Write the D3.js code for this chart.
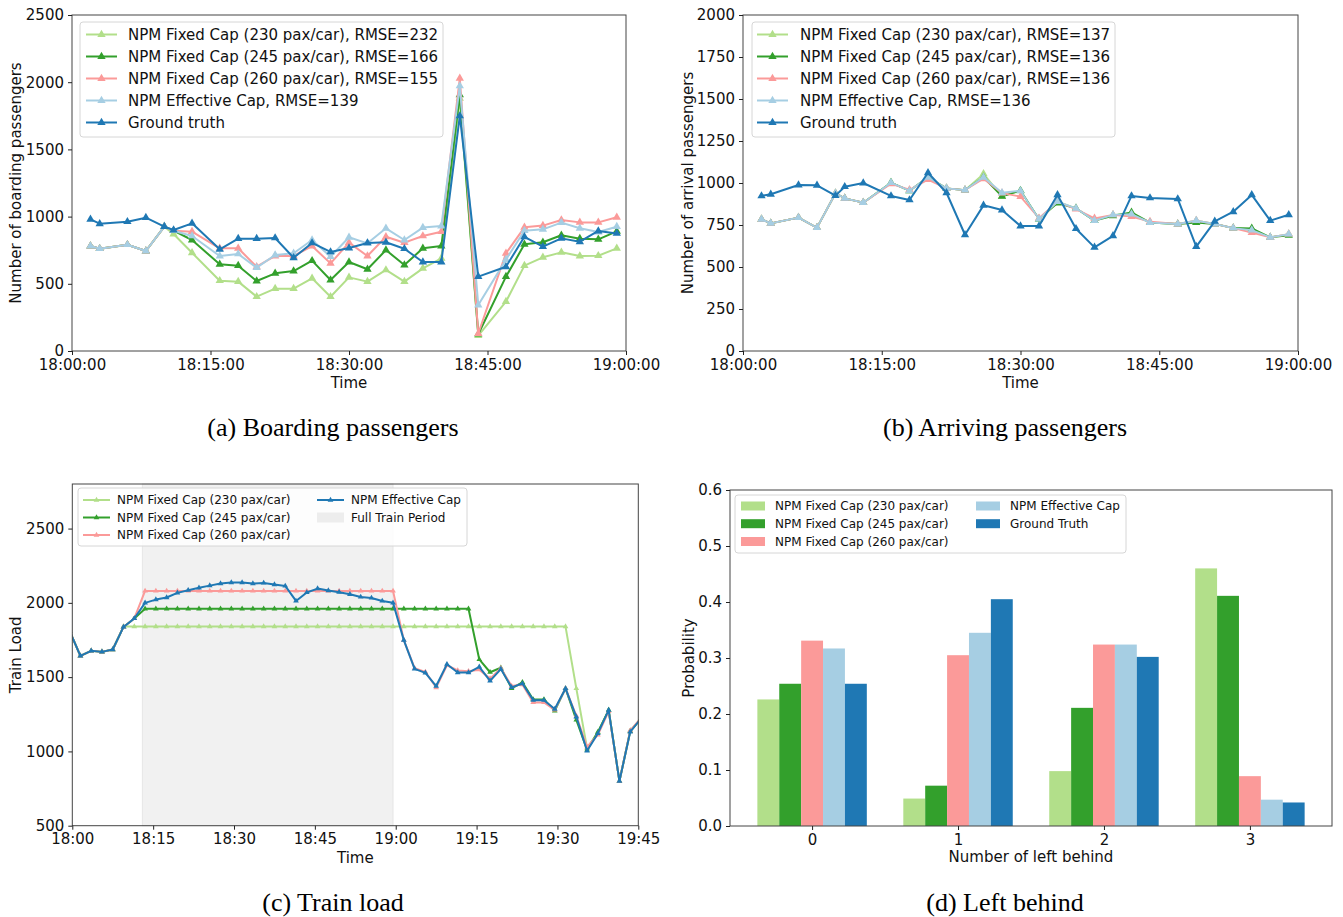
<!DOCTYPE html>
<html><head><meta charset="utf-8">
<script src="https://cdn.jsdelivr.net/npm/d3@7"></script>
<style>
body{margin:0;background:#fff;}
svg text{font-family:"DejaVu Sans",sans-serif;fill:#111;}
.cap{font-family:"Liberation Serif","Times New Roman",serif;font-size:26px;fill:#000;}
</style></head><body>
<svg id="chart" width="1343" height="917"></svg>
<script>
// ---------- DATA ----------
const colors = ["#b2df8a", "#33a02c", "#fb9a99", "#a6cee3", "#1f78b4"];

// (a) & (b): minutes after 18:00
const timesAB = [2,3,6,8,10,11,13,16,18,20,22,24,26,28,30,32,34,36,38,40,42,44,47,49,51,53,55,57,59];

const board230 = [781,761,791,744,925,870,731,523,516,404,464,464,541,404,548,516,603,516,615,690,1880,115,367,635,697,734,707,709,764];
const board245 = [781,761,791,744,925,895,826,645,635,521,578,595,672,528,662,608,751,640,764,781,1905,125,553,794,809,861,836,831,890];
const board260 = [781,761,791,744,925,895,888,764,764,627,707,707,781,652,806,707,850,806,856,888,2029,130,727,920,933,975,957,957,995];
const boardEff = [781,761,791,744,925,895,856,707,722,620,714,727,826,702,846,801,913,826,918,930,1972,342,680,895,905,955,913,885,925];
const boardGT  = [980,947,962,992,925,900,950,757,836,836,841,694,804,737,766,804,809,761,662,662,1749,553,627,850,776,838,813,893,875];
const boardLabels = ["NPM Fixed Cap (230 pax/car), RMSE=232","NPM Fixed Cap (245 pax/car), RMSE=166","NPM Fixed Cap (260 pax/car), RMSE=155","NPM Effective Cap, RMSE=139","Ground truth"];

const arr230 = [784,760,794,734,939,909,883,1002,954,1034,968,958,1054,920,954,785,889,849,776,810,815,764,756,776,756,732,720,677,696];
const arr245 = [784,760,794,734,939,909,883,1002,954,1034,968,958,1034,920,955,785,880,849,776,805,825,764,756,764,756,732,730,677,689];
const arr260 = [784,760,794,734,939,909,883,995,960,1020,968,958,1025,940,919,790,889,845,790,810,800,770,756,776,756,732,705,677,696];
const arrEff = [784,760,794,734,939,909,883,1002,954,1034,968,958,1034,942,954,785,889,849,776,810,815,764,756,776,756,732,720,677,696];
const arrGT  = [923,933,988,986,925,978,1000,923,899,1061,942,692,867,839,744,744,929,728,617,685,923,911,905,621,772,829,929,776,811];
const arrLabels = ["NPM Fixed Cap (230 pax/car), RMSE=137","NPM Fixed Cap (245 pax/car), RMSE=136","NPM Fixed Cap (260 pax/car), RMSE=136","NPM Effective Cap, RMSE=136","Ground truth"];

const tickMinutesAB = [0,15,30,45,60];

// (c) train load, minutes after 18:00
const timesC = [-0.5,1.5,3.5,5.5,7.5,9.5,11.5,13.5,15.5,17.5,19.5,21.5,23.5,25.5,27.5,29.5,31.5,33.5,35.5,37.5,39.5,41.5,43.5,45.5,47.5,49.5,51.5,53.5,55.5,57.5,59.5,61.5,63.5,65.5,67.5,69.5,71.5,73.5,75.5,77.5,79.5,81.5,83.5,85.5,87.5,89.5,91.5,93.5,95.5,97.5,99.5,101.5,103.5,105.5];
const load230 = [1810,1643,1677,1670,1686,1840,1840,1840,1840,1840,1840,1840,1840,1840,1840,1840,1840,1840,1840,1840,1840,1840,1840,1840,1840,1840,1840,1840,1840,1840,1840,1840,1840,1840,1840,1840,1840,1840,1840,1840,1840,1840,1840,1840,1840,1840,1840,1424,1020,1130,1278,800,1140,1221];
const load245 = [1810,1643,1677,1670,1686,1838,1895,1960,1960,1960,1960,1960,1960,1960,1960,1960,1960,1960,1960,1960,1960,1960,1960,1960,1960,1960,1960,1960,1960,1960,1960,1960,1960,1960,1960,1960,1960,1960,1619,1533,1563,1425,1465,1350,1350,1273,1424,1212,1010,1130,1278,800,1135,1221];
const load260 = [1810,1643,1677,1670,1686,1838,1895,2080,2080,2080,2080,2080,2080,2080,2080,2080,2080,2080,2080,2080,2080,2080,2080,2080,2080,2080,2080,2080,2080,2080,2080,1749,1560,1535,1430,1580,1545,1540,1550,1490,1560,1440,1450,1330,1330,1280,1424,1240,1030,1112,1270,800,1140,1225];
const loadEff = [1810,1643,1677,1670,1686,1838,1895,2000,2022,2036,2067,2085,2101,2116,2130,2137,2137,2130,2134,2123,2114,2013,2070,2096,2083,2072,2058,2040,2033,2013,2000,1749,1556,1529,1440,1587,1531,1531,1569,1475,1554,1431,1457,1345,1345,1285,1424,1233,1004,1121,1278,800,1132,1221];
const loadLabels = ["NPM Fixed Cap (230 pax/car)","NPM Fixed Cap (245 pax/car)","NPM Fixed Cap (260 pax/car)","NPM Effective Cap"];
const fullTrainPeriod = [13, 59.5];
const tickMinutesC = [0,15,30,45,60,75,90,105];

// (d) left behind
const leftCats = [0,1,2,3];
const left230 = [0.226,0.049,0.098,0.460];
const left245 = [0.254,0.072,0.211,0.411];
const left260 = [0.331,0.305,0.324,0.089];
const leftEff = [0.317,0.345,0.324,0.047];
const leftGT  = [0.254,0.405,0.302,0.042];
const leftLabels = ["NPM Fixed Cap (230 pax/car)","NPM Fixed Cap (245 pax/car)","NPM Fixed Cap (260 pax/car)","NPM Effective Cap","Ground Truth"];

const captions = ["(a) Boarding passengers","(b) Arriving passengers","(c) Train load","(d) Left behind"];

// ---------- DRAW ----------
const svg = d3.select("#chart");
const tri = d3.symbol().type(d3.symbolTriangle);
const FRAME = "#444";

function fmtHMS(m){const h=18+Math.floor(m/60);const mm=m%60;return h+":"+String(mm).padStart(2,"0")+":00";}
function fmtHM(m){const h=18+Math.floor(m/60);const mm=m%60;return h+":"+String(mm).padStart(2,"0");}

function styleAxis(g, fs){
  g.select(".domain").remove();
  g.selectAll(".tick line").attr("stroke","#222").attr("stroke-width",1);
  g.selectAll(".tick text").style("font-size",fs+"px").attr("fill","#111").style("font-family","DejaVu Sans");
}

function linePanel(o){
  const g = svg.append("g");
  const x = d3.scaleLinear().domain(o.xDomain).range([o.x0,o.x1]);
  const y = d3.scaleLinear().domain(o.yDomain).range([o.y1,o.y0]);
  const id = "clip"+o.id;
  svg.append("clipPath").attr("id",id).append("rect")
    .attr("x",o.x0).attr("y",o.y0).attr("width",o.x1-o.x0).attr("height",o.y1-o.y0);
  if(o.span){
    g.append("rect").attr("x",x(o.span[0])).attr("y",o.y0).attr("width",x(o.span[1])-x(o.span[0]))
      .attr("height",o.y1-o.y0).attr("fill","#f1f1f1").attr("stroke","#e6e6e6").attr("stroke-width",1);
  }
  const plot = g.append("g").attr("clip-path",`url(#${id})`);
  o.series.forEach((s,si)=>{
    const line = d3.line().x((d,i)=>x(o.times[i])).y(d=>y(d));
    plot.append("path").datum(s.values).attr("d",line).attr("fill","none")
      .attr("stroke",s.color).attr("stroke-width",s.lw).attr("stroke-linejoin","round");
    plot.selectAll(null).data(s.values).enter().append("path")
      .attr("d",tri.size(s.ms)())
      .attr("transform",(d,i)=>`translate(${x(o.times[i])},${y(d)})`)
      .attr("fill",s.color);
  });
  g.append("rect").attr("x",o.x0).attr("y",o.y0).attr("width",o.x1-o.x0).attr("height",o.y1-o.y0)
    .attr("fill","none").attr("stroke",FRAME).attr("stroke-width",1);
  const xa = g.append("g").attr("transform",`translate(0,${o.y1})`)
    .call(d3.axisBottom(x).tickValues(o.xTicks).tickFormat(o.xFmt).tickSize(4).tickPadding(4));
  styleAxis(xa,15);
  const ya = g.append("g").attr("transform",`translate(${o.x0},0)`)
    .call(d3.axisLeft(y).tickValues(o.yTicks).tickFormat(d3.format("d")).tickSize(4).tickPadding(4));
  styleAxis(ya,15);
  g.append("text").attr("x",(o.x0+o.x1)/2).attr("y",o.xlabY).attr("text-anchor","middle")
    .style("font-size","15px").text("Time");
  g.append("text").attr("transform",`translate(${o.ylabX},${(o.y0+o.y1)/2}) rotate(-90)`)
    .attr("text-anchor","middle").attr("dominant-baseline","central").style("font-size","15px").text(o.ylabel);
  return {g,x,y};
}

function lineLegend(lx, ly, w, h, items, fs, ms, lw){
  const g = svg.append("g");
  g.append("rect").attr("x",lx).attr("y",ly).attr("width",w).attr("height",h).attr("rx",3)
    .attr("fill","#fff").attr("fill-opacity",0.85).attr("stroke","#d6d6d6");
  items.forEach((it,i)=>{
    const cy = it.cy;
    if(it.patch){
      g.append("rect").attr("x",it.hx0).attr("y",cy-5).attr("width",it.hx1-it.hx0).attr("height",10).attr("fill",it.color);
    } else {
      g.append("line").attr("x1",it.hx0).attr("x2",it.hx1).attr("y1",cy).attr("y2",cy)
        .attr("stroke",it.color).attr("stroke-width",lw);
      g.append("path").attr("d",tri.size(ms)()).attr("transform",`translate(${(it.hx0+it.hx1)/2},${cy})`).attr("fill",it.color);
    }
    g.append("text").attr("x",it.tx).attr("y",cy).attr("dominant-baseline","central")
      .style("font-size",fs+"px").text(it.label);
  });
}

// Panel (a)
const seriesA = [board230,board245,board260,boardEff,boardGT].map((v,i)=>({values:v,color:colors[i],lw:2,ms:30}));
linePanel({id:"a",x0:72,x1:626,y0:15,y1:351,xDomain:[0,60],yDomain:[0,2500],times:timesAB,series:seriesA,
  xTicks:tickMinutesAB,xFmt:fmtHMS,yTicks:[0,500,1000,1500,2000,2500],xlabY:388,ylabX:16,ylabel:"Number of boarding passengers"});
lineLegend(80,22,363,115,boardLabels.map((l,i)=>({label:l,color:colors[i],cy:34.5+i*22,hx0:86,hx1:117,tx:128})),15,30,2);

// Panel (b)
const seriesB = [arr230,arr245,arr260,arrEff,arrGT].map((v,i)=>({values:v,color:colors[i],lw:i==4?2:1.8,ms:30}));
linePanel({id:"b",x0:743,x1:1298,y0:15,y1:351,xDomain:[0,60],yDomain:[0,2000],times:timesAB,series:seriesB,
  xTicks:tickMinutesAB,xFmt:fmtHMS,yTicks:[0,250,500,750,1000,1250,1500,1750,2000],xlabY:388,ylabX:688,ylabel:"Number of arrival passengers"});
lineLegend(752,22,363,115,arrLabels.map((l,i)=>({label:l,color:colors[i],cy:34.5+i*22,hx0:757,hx1:788,tx:800})),15,30,2);

// Panel (c)
const cColors = [colors[0],colors[1],colors[2],colors[4]];
const seriesC = [load230,load245,load260,loadEff].map((v,i)=>({values:v,color:cColors[i],lw:2,ms:14}));
linePanel({id:"c",x0:72.3,x1:638.3,y0:484,y1:825.7,xDomain:[0,105],yDomain:[500,2800],times:timesC,series:seriesC,
  xTicks:tickMinutesC,xFmt:fmtHM,yTicks:[500,1000,1500,2000,2500],xlabY:863,ylabX:16,ylabel:"Train Load",span:fullTrainPeriod});
lineLegend(78,488,389,58,[
  {label:loadLabels[0],color:cColors[0],cy:500,hx0:83,hx1:110,tx:117},
  {label:loadLabels[1],color:cColors[1],cy:517.5,hx0:83,hx1:110,tx:117},
  {label:loadLabels[2],color:cColors[2],cy:535,hx0:83,hx1:110,tx:117},
  {label:loadLabels[3],color:cColors[3],cy:500,hx0:317,hx1:344,tx:351},
  {label:"Full Train Period",color:"#ededed",cy:517.5,hx0:317,hx1:344,tx:351,patch:true}
],12,14,2);

// Panel (d)
(function(){
  const x0=730,x1=1332,y0=490,y1=826;
  const g = svg.append("g");
  const x = d3.scaleLinear().domain([-0.5625,3.5625]).range([x0,x1]);
  const y = d3.scaleLinear().domain([0,0.6]).range([y1,y0]);
  const groups = [left230,left245,left260,leftEff,leftGT];
  const offs = [-0.3,-0.15,0,0.15,0.3];
  const bw = 0.15;
  groups.forEach((vals,si)=>{
    g.selectAll(null).data(vals).enter().append("rect")
      .attr("x",(d,i)=>x(leftCats[i]+offs[si]-bw/2))
      .attr("width",x(bw)-x(0))
      .attr("y",d=>y(d)).attr("height",d=>y(0)-y(d))
      .attr("fill",colors[si]);
  });
  g.append("rect").attr("x",x0).attr("y",y0).attr("width",x1-x0).attr("height",y1-y0)
    .attr("fill","none").attr("stroke",FRAME).attr("stroke-width",1);
  const xa = g.append("g").attr("transform",`translate(0,${y1})`)
    .call(d3.axisBottom(x).tickValues(leftCats).tickFormat(d3.format("d")).tickSize(4).tickPadding(4));
  styleAxis(xa,15);
  const ya = g.append("g").attr("transform",`translate(${x0},0)`)
    .call(d3.axisLeft(y).tickValues([0,0.1,0.2,0.3,0.4,0.5,0.6]).tickFormat(d3.format(".1f")).tickSize(4).tickPadding(4));
  styleAxis(ya,15);
  g.append("text").attr("x",(x0+x1)/2).attr("y",862).attr("text-anchor","middle").style("font-size","15px").text("Number of left behind");
  g.append("text").attr("transform",`translate(${689},${(y0+y1)/2}) rotate(-90)`).attr("text-anchor","middle").attr("dominant-baseline","central").style("font-size","15px").text("Probability");
  // legend
  const lg = svg.append("g");
  lg.append("rect").attr("x",735).attr("y",495).attr("width",391).attr("height",58).attr("rx",3)
    .attr("fill","#fff").attr("fill-opacity",0.85).attr("stroke","#d6d6d6");
  const pos = [[741,506],[741,523.7],[741,541.5],[976,506],[976,523.7]];
  leftLabels.forEach((l,i)=>{
    lg.append("rect").attr("x",pos[i][0]).attr("y",pos[i][1]-4.5).attr("width",24).attr("height",9).attr("fill",colors[i]);
    lg.append("text").attr("x",pos[i][0]+34).attr("y",pos[i][1]).attr("dominant-baseline","central").style("font-size","12px").text(l);
  });
})();

// Captions
const capPos = [[333,436],[1005,436],[333,911],[1005,911]];
captions.forEach((c,i)=>{
  svg.append("text").attr("class","cap").attr("x",capPos[i][0]).attr("y",capPos[i][1]).attr("text-anchor","middle").text(c);
});
</script>
</body></html>
